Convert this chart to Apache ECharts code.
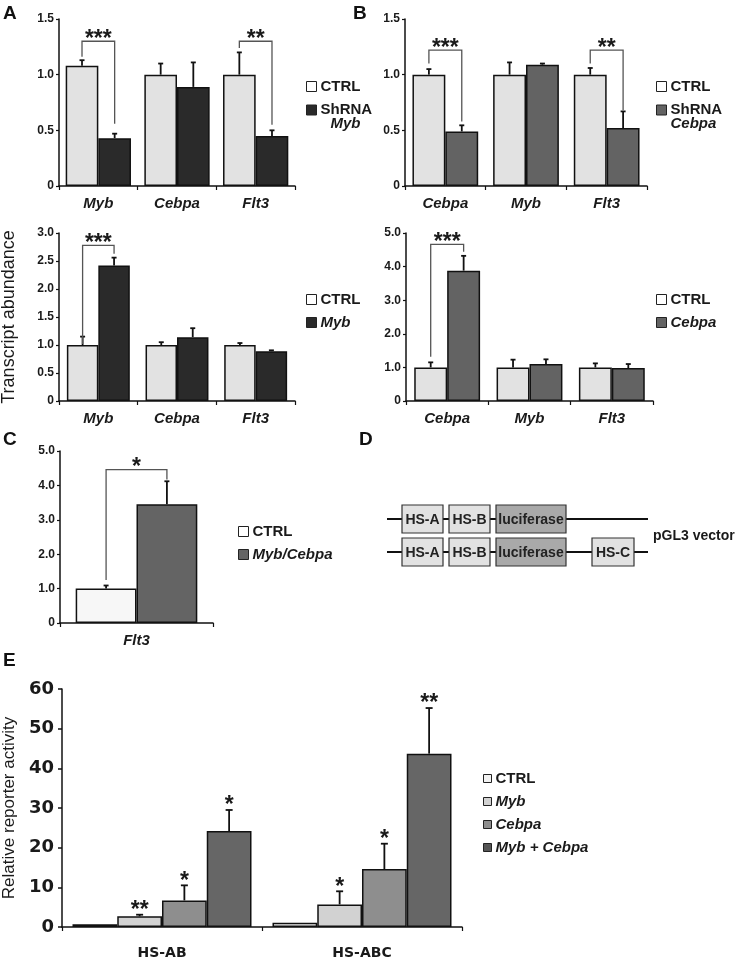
<!DOCTYPE html>
<html><head><meta charset="utf-8">
<script src="https://cdn.jsdelivr.net/npm/echarts@6/dist/echarts.min.js"></script>
<style>html,body{margin:0;padding:0;background:#fff}#c{width:739px;height:960px}</style>
</head><body><div id="c"></div>
<script>
// ---------- DATA ----------
// Panel A (top): ShRNA Myb
const catsA1 = ['Myb', 'Cebpa', 'Flt3'];
const ctrlA1 = [1.08, 1.00, 1.00];
const ctrlA1Err = [1.13, 1.10, 1.20];
const shMybA1 = [0.43, 0.89, 0.45];
const shMybA1Err = [0.47, 1.11, 0.50];
const sigA1 = [[0, 1.30, 1.16, 0.56], [2, 1.30, 1.24, 0.55]];
const sigA1Text = ['***', '**'];
// Panel B (top): ShRNA Cebpa
const catsB1 = ['Cebpa', 'Myb', 'Flt3'];
const ctrlB1 = [1.00, 1.00, 1.00];
const ctrlB1Err = [1.05, 1.11, 1.06];
const shCebpaB1 = [0.49, 1.09, 0.52];
const shCebpaB1Err = [0.545, 1.10, 0.67];
const sigB1 = [[0, 1.22, 1.10, 0.58], [2, 1.22, 1.10, 0.68]];
const sigB1Text = ['***', '**'];
// Panel A (bottom): Myb overexpression
const catsA2 = ['Myb', 'Cebpa', 'Flt3'];
const ctrlA2 = [1.00, 1.00, 1.00];
const ctrlA2Err = [1.15, 1.05, 1.035];
const mybA2 = [2.42, 1.14, 0.89];
const mybA2Err = [2.56, 1.30, 0.905];
const sigA2 = [[0, 2.78, 1.02, 2.63]];
const sigA2Text = ['***'];
// Panel B (bottom): Cebpa overexpression
const catsB2 = ['Cebpa', 'Myb', 'Flt3'];
const ctrlB2 = [1.00, 1.00, 1.00];
const ctrlB2Err = [1.15, 1.23, 1.12];
const cebpaB2 = [3.88, 1.10, 0.98];
const cebpaB2Err = [4.32, 1.24, 1.10];
const sigB2 = [[0, 4.66, 1.32, 4.44]];
const sigB2Text = ['***'];
// Panel C
const catsC = ['Flt3'];
const ctrlC = [1.00];
const ctrlCErr = [1.09];
const mybCebpaC = [3.45];
const mybCebpaCErr = [4.12];
const sigC = [[0, 4.46, 1.25, 4.17]];
const sigCText = ['*'];
// Panel E
const catsE = ['HS-AB', 'HS-ABC'];
const ctrlE = [0.7, 1.1];
const mybE = [2.7, 5.7];
const mybEErr = [3.1, 9.0];
const mybEStars = ['**', '*'];
const cebpaE = [6.7, 14.6];
const cebpaEErr = [10.5, 21.0];
const cebpaEStars = ['*', '*'];
const mcE = [24.2, 43.7];
const mcEErr = [29.5, 55.2];
const mcEStars = ['*', '**'];

// ---------- HELPERS ----------
const FF = '"Liberation Sans", Arial, sans-serif';
const FD = '"DejaVu Sans", sans-serif';
const TXT = '#1a1a1a';
const series = [];

function bar(gi, name, data, color, gap) {
  series.push({
    type: 'bar', name: name, xAxisIndex: gi, yAxisIndex: gi, data: data,
    barGap: '0%', barCategoryGap: gap,
    itemStyle: { color: color, borderColor: '#111', borderWidth: 1.5 },
    emphasis: { disabled: true }, silent: true, z: 2
  });
}
function err(gi, vals, tops, idx, n, gapFrac, capW, stars) {
  series.push({
    type: 'custom', xAxisIndex: gi, yAxisIndex: gi, silent: true, z: 5,
    data: vals.map((v, i) => [i, v, tops[i]]),
    renderItem: function (params, api) {
      const band = api.size([1, 0])[0];
      const inner = band * (1 - gapFrac);
      const bw = inner / n;
      const c = api.coord([api.value(0), api.value(1)]);
      const x = c[0] - inner / 2 + bw * (idx + 0.5);
      const yt = api.coord([api.value(0), api.value(2)])[1];
      const ch = [
        { type: 'line', shape: { x1: x, y1: c[1], x2: x, y2: yt }, style: { stroke: '#111', lineWidth: 1.8 } },
        { type: 'line', shape: { x1: x - capW / 2, y1: yt, x2: x + capW / 2, y2: yt }, style: { stroke: '#111', lineWidth: 1.8 } }
      ];
      if (stars && stars[params.dataIndex]) {
        ch.push({ type: 'text', x: x, y: yt - 4, style: { text: stars[params.dataIndex], fill: TXT, font: 'bold 23px ' + FF, align: 'center', verticalAlign: 'middle' } });
      }
      return { type: 'group', children: ch };
    }
  });
}
function sig(gi, rows, texts, gapFrac) {
  series.push({
    type: 'custom', xAxisIndex: gi, yAxisIndex: gi, silent: true, z: 6,
    data: rows,
    renderItem: function (params, api) {
      const band = api.size([1, 0])[0];
      const inner = band * (1 - gapFrac);
      const bw = inner / 2;
      const ct = api.coord([api.value(0), api.value(1)]);
      const xl = ct[0] - inner / 2 + bw * 0.5;
      const xr = ct[0] - inner / 2 + bw * 1.5;
      const yl = api.coord([api.value(0), api.value(2)])[1];
      const yr = api.coord([api.value(0), api.value(3)])[1];
      return { type: 'group', children: [
        { type: 'polyline', shape: { points: [[xl, yl], [xl, ct[1]], [xr, ct[1]], [xr, yr]] }, style: { stroke: '#555', lineWidth: 1.3, fill: null } },
        { type: 'text', x: (xl + xr) / 2, y: ct[1] - 1.5, style: { text: texts[params.dataIndex], fill: TXT, font: 'bold 23px ' + FF, align: 'center', verticalAlign: 'middle' } }
      ] };
    }
  });
}
function xAx(gi, cats, font, size, margin) {
  return {
    type: 'category', gridIndex: gi, data: cats,
    axisLine: { lineStyle: { color: '#111', width: 1.5 } },
    axisTick: { show: true, length: 4, alignWithLabel: false, lineStyle: { color: '#111', width: 1.2 } },
    axisLabel: { interval: 0, margin: margin, color: TXT, fontFamily: font, fontWeight: 'bold', fontStyle: gi === 5 ? 'normal' : 'italic', fontSize: size },
    splitLine: { show: false }
  };
}
function yAx(gi, max, interval, extra) {
  const o = {
    type: 'value', gridIndex: gi, min: 0, max: max, interval: interval,
    axisLine: { show: true, lineStyle: { color: '#111', width: 1.5 } },
    axisTick: { show: true, length: 3, lineStyle: { color: '#111', width: 1.2 } },
    splitLine: { show: false },
    axisLabel: { margin: 5, color: TXT, fontFamily: FF, fontWeight: 'bold', fontSize: 12,
      formatter: v => (v === 0 ? '0' : v.toFixed(1)) }
  };
  return Object.assign(o, extra || {});
}
const richB = { fontFamily: FF, fontWeight: 'bold', fontSize: 15, color: TXT, lineHeight: 14 };
const richI = { fontFamily: FF, fontWeight: 'bold', fontStyle: 'italic', fontSize: 15, color: TXT, lineHeight: 14 };
function leg(left, top, items, gap, fmt, iw) {
  return {
    orient: 'vertical', left: left, top: top, itemGap: gap, itemWidth: iw || 10, itemHeight: iw || 10,
    padding: 0, selectedMode: false, icon: 'rect',
    itemStyle: { borderColor: '#222', borderWidth: 1 },
    data: items.map(it => ({ name: it[0], itemStyle: { color: it[1], borderColor: '#222', borderWidth: 1 } })),
    formatter: fmt,
    textStyle: { fontFamily: FF, fontWeight: 'bold', fontSize: 15, color: TXT, padding: [0, 0, 0, -1],
      rich: { b: richB, i: richI, s: { fontSize: 10, lineHeight: 14 }, bi: Object.assign({}, richI, { padding: [0, 0, 0, 10] }) } }
  };
}

// ---------- SERIES ----------
// A top
bar(0, 'CTRL', ctrlA1, '#e2e2e2', '17%');
bar(0, 'ShRNA Myb', shMybA1, '#2a2a2a', '17%');
err(0, ctrlA1, ctrlA1Err, 0, 2, 0.17, 5);
err(0, shMybA1, shMybA1Err, 1, 2, 0.17, 5);
sig(0, sigA1, sigA1Text, 0.17);
// B top
bar(1, 'CTRL', ctrlB1, '#e2e2e2', '18.5%');
bar(1, 'ShRNA Cebpa', shCebpaB1, '#636363', '18.5%');
err(1, ctrlB1, ctrlB1Err, 0, 2, 0.185, 5);
err(1, shCebpaB1, shCebpaB1Err, 1, 2, 0.185, 5);
sig(1, sigB1, sigB1Text, 0.185);
// A bottom
bar(2, 'CTRL', ctrlA2, '#e2e2e2', '20%');
bar(2, 'Myb', mybA2, '#2a2a2a', '20%');
err(2, ctrlA2, ctrlA2Err, 0, 2, 0.20, 5);
err(2, mybA2, mybA2Err, 1, 2, 0.20, 5);
sig(2, sigA2, sigA2Text, 0.20);
// B bottom
bar(3, 'CTRL', ctrlB2, '#e2e2e2', '20%');
bar(3, 'Cebpa', cebpaB2, '#636363', '20%');
err(3, ctrlB2, ctrlB2Err, 0, 2, 0.20, 5);
err(3, cebpaB2, cebpaB2Err, 1, 2, 0.20, 5);
sig(3, sigB2, sigB2Text, 0.20);
// C
bar(4, 'CTRL', ctrlC, '#f7f7f7', '20.5%');
bar(4, 'Myb/Cebpa', mybCebpaC, '#646464', '20.5%');
err(4, ctrlC, ctrlCErr, 0, 2, 0.205, 5);
err(4, mybCebpaC, mybCebpaCErr, 1, 2, 0.205, 5);
sig(4, sigC, sigCText, 0.205);
// E
bar(5, 'CTRL', ctrlE, '#f2f2f2', '10.5%');
bar(5, 'Myb', mybE, '#d2d2d2', '10.5%');
bar(5, 'Cebpa', cebpaE, '#8e8e8e', '10.5%');
bar(5, 'Myb + Cebpa', mcE, '#666666', '10.5%');
err(5, mybE, mybEErr, 1, 4, 0.105, 7, mybEStars);
err(5, cebpaE, cebpaEErr, 2, 4, 0.105, 7, cebpaEStars);
err(5, mcE, mcEErr, 3, 4, 0.105, 7, mcEStars);

// ---------- DIAGRAM (panel D) + panel letters ----------
const g = [];
function letter(t, x, y) { g.push({ type: 'text', x: x, y: y, style: { text: t, fill: '#111', font: 'bold 19px ' + FF, verticalAlign: 'middle' } }); }
letter('A', 3, 14); letter('B', 353, 14); letter('C', 3, 440); letter('D', 359, 440); letter('E', 3, 661);
function line(x1, y1, x2, y2) { g.push({ type: 'line', shape: { x1, y1, x2, y2 }, style: { stroke: '#111', lineWidth: 2 } }); }
function box(x, y, w, h, fill, t) {
  g.push({ type: 'rect', shape: { x, y, width: w, height: h }, style: { fill: fill, stroke: '#333', lineWidth: 1.2 } });
  g.push({ type: 'text', x: x + w / 2, y: y + h / 2 + 1, style: { text: t, fill: '#222', font: 'bold 14px ' + FF, align: 'center', verticalAlign: 'middle' } });
}
line(387, 519, 648, 519);
line(387, 552, 648, 552);
box(402, 505, 41, 28, '#e2e2e2', 'HS-A');
box(449, 505, 41, 28, '#e2e2e2', 'HS-B');
box(496, 505, 70, 28, '#a9a9a9', 'luciferase');
box(402, 538, 41, 28, '#e2e2e2', 'HS-A');
box(449, 538, 41, 28, '#e2e2e2', 'HS-B');
box(496, 538, 70, 28, '#a9a9a9', 'luciferase');
box(592, 538, 42, 28, '#e2e2e2', 'HS-C');
g.push({ type: 'text', x: 653, y: 536, style: { text: 'pGL3 vector', fill: '#1a1a1a', font: 'bold 14px ' + FF, verticalAlign: 'middle' } });

// ---------- OPTION ----------
const grids = [
  { left: 59, top: 19, width: 236, height: 167 },
  { left: 405, top: 19, width: 242, height: 167 },
  { left: 59, top: 233, width: 236, height: 168 },
  { left: 406, top: 233, width: 247, height: 168 },
  { left: 60, top: 451, width: 153, height: 172 },
  { left: 62, top: 689, width: 400, height: 238 }
].map(o => Object.assign({ containLabel: false, outerBoundsMode: 'none' }, o));

const option = {
  animation: false,
  backgroundColor: '#fff',
  grid: grids,
  xAxis: [
    xAx(0, catsA1, FF, 15, 10), xAx(1, catsB1, FF, 15, 10), xAx(2, catsA2, FF, 15, 10),
    xAx(3, catsB2, FF, 15, 10), xAx(4, catsC, FF, 15, 10), xAx(5, catsE, FD, 14, 19)
  ],
  yAxis: [
    yAx(0, 1.5, 0.5), yAx(1, 1.5, 0.5),
    yAx(2, 3, 0.5, { name: 'Transcript abundance', nameLocation: 'middle', nameGap: 41,
      nameTextStyle: { fontFamily: FF, fontSize: 18, color: TXT } }),
    yAx(3, 5, 1), yAx(4, 5, 1),
    yAx(5, 60, 10, { name: 'Relative reporter activity', nameLocation: 'middle', nameGap: 44,
      nameTextStyle: { fontFamily: FF, fontSize: 17, color: TXT },
      axisTick: { show: true, length: 4, lineStyle: { color: '#111', width: 1.5 } },
      axisLabel: { margin: 8, color: TXT, fontFamily: FD, fontWeight: 'bold', fontSize: 18, formatter: v => String(v) } })
  ],
  legend: [
    leg(306, 79, [['CTRL', '#ffffff'], ['ShRNA Myb', '#2a2a2a']], -3,
      n => n === 'CTRL' ? '{b|CTRL}' : '{s| }\n{b|ShRNA}\n{bi|Myb}'),
    leg(656, 79, [['CTRL', '#ffffff'], ['ShRNA Cebpa', '#636363']], -3,
      n => n === 'CTRL' ? '{b|CTRL}' : '{s| }\n{b|ShRNA}\n{i|Cebpa}'),
    leg(306, 292, [['CTRL', '#ffffff'], ['Myb', '#2a2a2a']], 8,
      n => n === 'CTRL' ? '{b|CTRL}' : '{i|' + n + '}'),
    leg(656, 292, [['CTRL', '#ffffff'], ['Cebpa', '#636363']], 8,
      n => n === 'CTRL' ? '{b|CTRL}' : '{i|' + n + '}'),
    leg(238, 524, [['CTRL', '#ffffff'], ['Myb/Cebpa', '#646464']], 8,
      n => n === 'CTRL' ? '{b|CTRL}' : '{i|' + n + '}'),
    leg(483, 771, [['CTRL', '#f2f2f2'], ['Myb', '#d2d2d2'], ['Cebpa', '#8e8e8e'], ['Myb + Cebpa', '#555555']], 8,
      n => n === 'CTRL' ? '{b|CTRL}' : '{i|' + n + '}', 8)
  ],
  series: series,
  graphic: g
};
const chart = echarts.init(document.getElementById('c'), null, { renderer: 'canvas' });
chart.setOption(option);
</script></body></html>
